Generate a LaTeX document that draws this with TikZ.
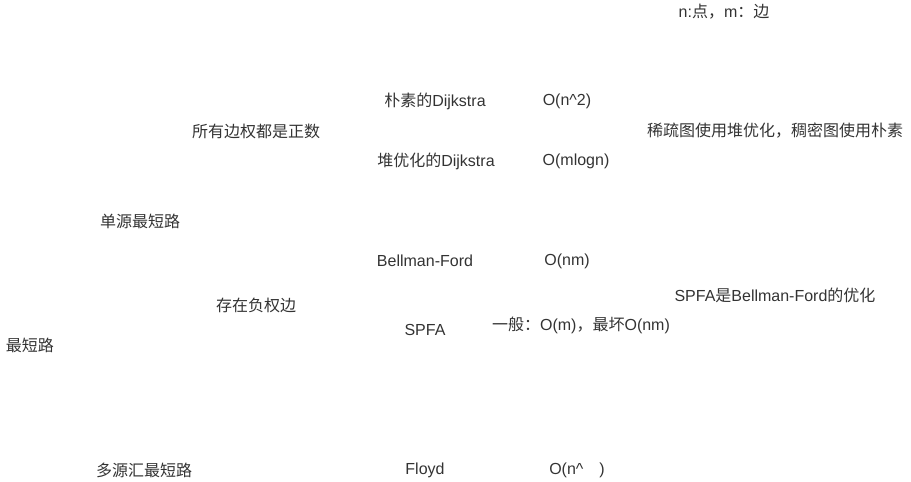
\documentclass[tikz,border=0pt]{standalone}
\usepackage{fontspec}
\setmainfont{Liberation Sans}
\newfontfamily\cjk{Noto Sans CJK SC}
\usepackage{xcolor}
\definecolor{inkgray}{RGB}{51,51,51}

\begin{document}
\begin{tikzpicture}[x=0.75pt,y=-0.75pt, every node/.style={font=\fontsize{12}{14}\selectfont,text=inkgray,inner sep=0pt,anchor=center}, topic/.style={}, cost/.style={}, remark/.style={}]
  \useasboundingbox (0,0) rectangle (911,482);
  % root and its two branches
  \node[topic] (root) at (30,345) {\cjk 最短路};
  \node[topic] (single) at (140,221) {\cjk 单源最短路};
  \node[topic] (multi) at (144,470) {\cjk 多源汇最短路};
  % single source: positive weights
  \node[topic] (pos) at (256,131) {\cjk 所有边权都是正数};
  \node[topic] (naive) at (435,101) {{\cjk 朴素的}Dijkstra};
  \node[cost] (naivecost) at (567,101) {O(n\^{}2)};
  \node[topic] (heap) at (436,161) {{\cjk 堆优化的}Dijkstra};
  \node[cost] (heapcost) at (576,161) {O(mlogn)};
  \node[remark] (dijnote) at (775,131) {\cjk 稀疏图使用堆优化，稠密图使用朴素};
  % single source: negative weights
  \node[topic] (neg) at (256,305) {\cjk 存在负权边};
  \node[topic] (bf) at (425,261) {Bellman-Ford};
  \node[cost] (bfcost) at (567,261) {O(nm)};
  \node[topic] (spfa) at (425,330) {SPFA};
  \node[cost] (spfacost) at (581,325) {{\cjk 一般：}O(m){\cjk ，最坏}O(nm)};
  \node[remark] (spfanote) at (775,295) {SPFA{\cjk 是}Bellman-Ford{\cjk 的优化}};
  % multi source
  \node[topic] (floyd) at (425,470) {Floyd};
  \node[cost] (floydcost) at (577,470) {O(n\^{}\hspace{12pt})};
  % legend
  \node[remark] (legend) at (724,12) {n:{\cjk 点，}m{\cjk ：边}};
\end{tikzpicture}
\end{document}
